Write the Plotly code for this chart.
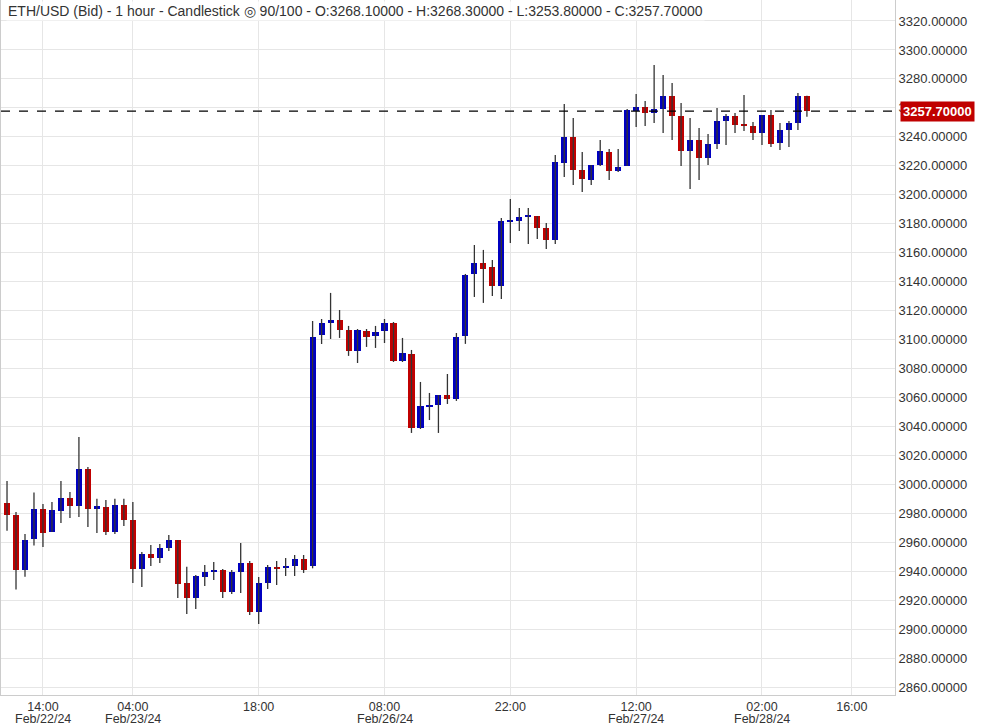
import plotly.graph_objects as go

opens = [2987.1,2978.8,2940.8,2962.3,2983.0,2967.1,2981.6,2990.6,2985.1,3010.6,
         2983.0,2984.4,2967.1,2985.8,2975.4,2941.5,2951.9,2949.1,2956.0,2961.6,
         2931.9,2921.5,2936.0,2939.5,2940.8,2925.7,2939.5,2945.7,2911.9,2931.9,
         2942.9,2942.2,2943.6,2948.5,2943.6,3103.1,3111.4,3113.5,3106.6,3092.1,
         3105.9,3102.5,3105.9,3111.4,3085.2,3090.0,3038.9,3053.4,3054.8,3061.7,
         3058.9,3102.5,3145.3,3152.9,3150.1,3137.0,3181.2,3181.9,3184.6,3185.3,
         3177.0,3168.8,3222.0,3239.9,3217.1,3210.2,3220.6,3229.5,3216.4,3219.9,
         3257.8,3260.6,3256.5,3259.2,3268.2,3254.4,3230.2,3237.8,3225.4,3235.1,
         3250.9,3254.4,3248.2,3247.5,3242.7,3255.1,3235.8,3244.7,3249.6,3268.1]
highs = [3002.3,2980.9,2965.7,2994.3,2986.4,2987.8,3002.3,2994.7,3032.7,3012.0,
         2990.0,2989.2,2990.0,2990.0,2987.8,2953.3,2958.1,2958.8,2965.0,2961.6,
         2943.0,2937.4,2944.3,2946.4,2941.5,2940.8,2959.5,2947.1,2936.0,2944.3,
         2947.1,2949.1,2951.2,2951.2,3112.8,3114.2,3132.2,3120.4,3109.4,3107.3,
         3107.3,3109.4,3114.2,3112.1,3101.1,3092.8,3070.7,3063.1,3061.7,3076.2,
         3104.5,3145.3,3165.3,3161.9,3155.0,3184.0,3197.0,3190.9,3190.9,3185.3,
         3180.5,3227.5,3262.7,3253.0,3229.5,3220.6,3237.8,3231.6,3231.6,3259.2,
         3269.6,3264.8,3289.6,3282.7,3277.2,3263.4,3253.0,3246.1,3242.0,3259.9,
         3255.8,3256.5,3268.9,3250.2,3255.1,3258.5,3249.6,3250.9,3270.3,3268.3]
lows = [2968.0,2927.3,2936.2,2957.7,2956.7,2967.1,2973.3,2976.8,2977.5,2970.6,
        2966.4,2965.0,2965.7,2971.2,2931.9,2929.1,2943.6,2945.7,2954.0,2921.5,
        2910.5,2913.9,2929.8,2934.0,2921.5,2924.3,2925.0,2909.8,2903.6,2927.7,
        2930.5,2936.7,2936.7,2938.8,2942.0,3096.9,3100.4,3101.1,3088.7,3083.8,
        3094.9,3094.2,3097.6,3084.5,3084.5,3035.5,3038.2,3044.4,3035.5,3055.5,
        3057.6,3097.0,3129.4,3125.3,3130.1,3128.0,3166.7,3175.0,3166.0,3169.5,
        3162.5,3166.0,3212.3,3206.7,3201.9,3206.7,3219.9,3210.2,3215.7,3219.9,
        3246.8,3247.5,3249.6,3242.7,3237.8,3219.9,3204.0,3210.2,3220.6,3231.6,
        3234.4,3242.7,3244.0,3237.8,3234.4,3233.0,3230.9,3233.0,3244.7,3253.8]
closes = [2978.8,2940.8,2961.6,2983.0,2966.4,2982.3,2990.6,2985.1,3010.6,2983.0,
          2985.1,2967.1,2985.8,2975.4,2941.5,2951.9,2949.1,2956.0,2961.6,2931.2,
          2921.5,2936.7,2939.5,2940.8,2925.7,2939.5,2945.7,2911.9,2931.9,2942.9,
          2942.2,2943.6,2948.5,2940.8,3101.8,3111.4,3113.5,3106.6,3092.1,3106.6,
          3101.8,3105.2,3111.4,3085.2,3090.7,3038.9,3054.1,3054.8,3061.7,3058.9,
          3101.8,3144.6,3152.9,3148.7,3137.0,3181.9,3182.6,3184.6,3186.0,3177.0,
          3168.8,3222.6,3239.9,3217.1,3210.9,3220.6,3230.2,3216.4,3219.2,3258.5,
          3260.6,3256.5,3259.2,3268.2,3254.4,3230.2,3237.8,3225.4,3235.1,3250.9,
          3254.4,3248.2,3247.5,3242.7,3255.1,3235.1,3244.7,3249.6,3268.2,3257.7]

tick_idx = [4, 14, 28, 42, 56, 70, 84, 94]
tick_times = ["14:00", "04:00", "18:00", "08:00", "22:00", "12:00", "02:00", "16:00"]
date_idx = [4, 14, 42, 70, 84]
date_labels = ["Feb/22/24", "Feb/23/24", "Feb/26/24", "Feb/27/24", "Feb/28/24"]
y_ticks = list(range(2860, 3341, 20))

BLUE, RED, WICK = "#0000C0", "#C00000", "#333333"
idx = list(range(len(opens)))

wx, wy = [], []
for i in idx:
    wx += [i, i, None]
    wy += [lows[i], highs[i], None]

base = [min(o, c) for o, c in zip(opens, closes)]
hgt = [max(abs(c - o), 0.8) for o, c in zip(opens, closes)]
cols = [BLUE if c >= o else RED for o, c in zip(opens, closes)]

fig = go.Figure()
fig.add_trace(go.Scatter(x=wx, y=wy, mode="lines", line=dict(color=WICK, width=1.3),
                         hoverinfo="skip", showlegend=False))
fig.add_trace(go.Bar(x=idx, y=hgt, base=base, width=0.68, marker=dict(color=cols, line=dict(width=0)),
                     showlegend=False))

last = closes[-1]
fig.add_hline(y=last, line=dict(color="black", width=1.2, dash="dash"))
fig.add_annotation(x=1, xref="paper", y=last, yref="y", xanchor="left", yanchor="middle",
                   text="<b>%.5f</b>" % last, showarrow=False, bgcolor=RED, xshift=5,
                   font=dict(color="white", size=13, family="Liberation Sans"), borderpad=2)
fig.add_annotation(x=0.006, xref="paper", y=0.999, yref="paper", xanchor="left", yanchor="top",
                   text="ETH/USD (Bid) - 1 hour - Candlestick ◎ 90/100 - O:%.5f - H:%.5f - L:%.5f - C:%.5f"
                        % (opens[-1], highs[-1], lows[-1], closes[-1]),
                   showarrow=False, font=dict(color="#333333", size=14, family="Liberation Sans"),
                   bgcolor="rgba(255,255,255,0.8)")
for xi, lab in zip(date_idx, date_labels):
    fig.add_annotation(x=xi, xref="x", y=0, yref="paper", yanchor="middle", yshift=-24,
                       text=lab, showarrow=False, font=dict(size=12.5, color="#333333"))

fig.update_layout(
    width=991, height=728, margin=dict(l=1, r=96, t=0, b=33, autoexpand=False),
    paper_bgcolor="white", plot_bgcolor="white", bargap=0,
    font=dict(family="Liberation Sans", size=13, color="#333333"),
    xaxis=dict(range=[-0.67, 98.8], tickvals=tick_idx, ticktext=tick_times, showgrid=True,
               gridcolor="#E6E6E6", zeroline=False, showline=True, linecolor="#CCCCCC",
               mirror=True, ticks="", tickfont=dict(size=12.5), automargin=False),
    yaxis=dict(side="right", range=[2854.5, 3334.5], tickvals=y_ticks,
               ticktext=["%.5f" % v for v in y_ticks], showgrid=True, gridcolor="#E6E6E6",
               zeroline=False, showline=True, linecolor="#CCCCCC", mirror=True, ticks="",
               tickfont=dict(size=13), automargin=False),
)
fig.write_html("out.html", config={"displayModeBar": False},
               post_script="document.body.style.margin='0';document.body.style.overflow='hidden';")
